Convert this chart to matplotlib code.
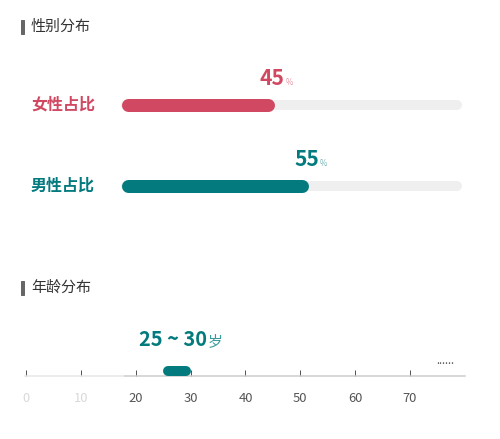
import matplotlib.pyplot as plt
from matplotlib.patches import Rectangle
from matplotlib.offsetbox import TextArea, HPacker, AnnotationBbox

plt.rcParams['font.family'] = ['Noto Sans CJK SC', 'DejaVu Sans']

# 数据
gender_labels = ['女性占比', '男性占比']
gender_values = [45, 55]
gender_colors = ['#d04862', '#037a7d']
pct_colors = ['#e6909f', '#6fb3b5']

age_low, age_high = 25, 30
age_ticks = [0, 10, 20, 30, 40, 50, 60, 70]
age_max = 80
age_faded = 18   # 左侧浅色区段终点

W, H = 500, 439
fig = plt.figure(figsize=(W / 72, H / 72), dpi=72)
fig.patch.set_facecolor('white')


def px_axes(x0, y0, x1, y1):
    # 用像素位置建坐标轴（y 从上往下）
    return fig.add_axes([x0 / W, 1 - y1 / H, (x1 - x0) / W, (y1 - y0) / H])


def section_title(text, y):
    fig.patches.append(Rectangle((21 / W, 1 - (y + 7) / H), 3 / W, 14 / H,
                                 transform=fig.transFigure, color='#666666'))
    fig.text(31 / W, 1 - y / H, text, fontsize=15, color='#333333', va='center')


section_title('性别分布', 27)
section_title('年龄分布', 288)

# ---- 性别条形 ----
ax = px_axes(121, 64.5, 462, 226.5)
ax.set_xlim(0, 100)
ax.set_ylim(1.5, -0.5)
ax.axis('off')

px_per_unit = 341 / 100
track_pad = 5 / px_per_unit
fill_pad = 6.5 / px_per_unit

for i, (lab, val) in enumerate(zip(gender_labels, gender_values)):
    ax.plot([track_pad, 100 - track_pad], [i, i], color='#efefef', lw=10,
            solid_capstyle='round')
    ax.plot([fill_pad, val - fill_pad], [i, i], color=gender_colors[i], lw=13,
            solid_capstyle='round')
    ax.text((31 - 121) / 341, i, lab, transform=ax.get_yaxis_transform(),
            fontsize=16, fontweight='bold', color=gender_colors[i],
            ha='left', va='center')
    box = HPacker(children=[
        TextArea(str(val), textprops=dict(fontsize=21, fontweight='bold',
                                          color=gender_colors[i])),
        TextArea('%', textprops=dict(fontsize=8, color=pct_colors[i]))],
        align='baseline', pad=0, sep=1)
    ab = AnnotationBbox(box, (val, i), xybox=(2, 16), boxcoords='offset points',
                        frameon=False, box_alignment=(0.5, 0))
    ax.add_artist(ab)

# ---- 年龄轴 ----
ax2 = px_axes(26, 310, 26 + age_max * 5.486, 376)
ax2.set_xlim(0, age_max)
ax2.set_ylim(0, 66)
for s in ax2.spines.values():
    s.set_visible(False)
ax2.set_yticks([])
ax2.plot([-0.2, age_faded], [0, 0], color='#e6e6e6', lw=1.5, clip_on=False)
ax2.plot([age_faded, age_max], [0, 0], color='#cccccc', lw=1.5, clip_on=False)
ax2.set_xticks(age_ticks)
ax2.tick_params(axis='x', direction='in', length=6, width=1, pad=16,
                labelsize=13, colors='#555555')
for t, line in zip(age_ticks, ax2.get_xticklines()):
    line.set_color('#e6e6e6' if t < age_faded else '#cccccc')
for t, lab in zip(age_ticks, ax2.get_xticklabels()):
    lab.set_color('#d9d9d9' if t < age_faded else '#555555')

apx = 5.486
ax2.plot([age_low + 5 / apx, age_high - 5 / apx], [5, 5], color='#037a7d',
         lw=10, solid_capstyle='round')

box = HPacker(children=[
    TextArea(f'{age_low} ~ {age_high}', textprops=dict(fontsize=20, fontweight='bold',
                                                       color='#037a7d')),
    TextArea('岁', textprops=dict(fontsize=15, color='#3a9a9c'))],
    align='baseline', pad=0, sep=1)
ax2.add_artist(AnnotationBbox(box, ((age_low + age_high) / 2, 5), xybox=(4, 21),
                              boxcoords='offset points', frameon=False,
                              box_alignment=(0.5, 0)))
ax2.text(76.4, 10, '......', ha='center', va='bottom', fontsize=11, color='#555555')

fig.savefig('out.png', dpi=72)
